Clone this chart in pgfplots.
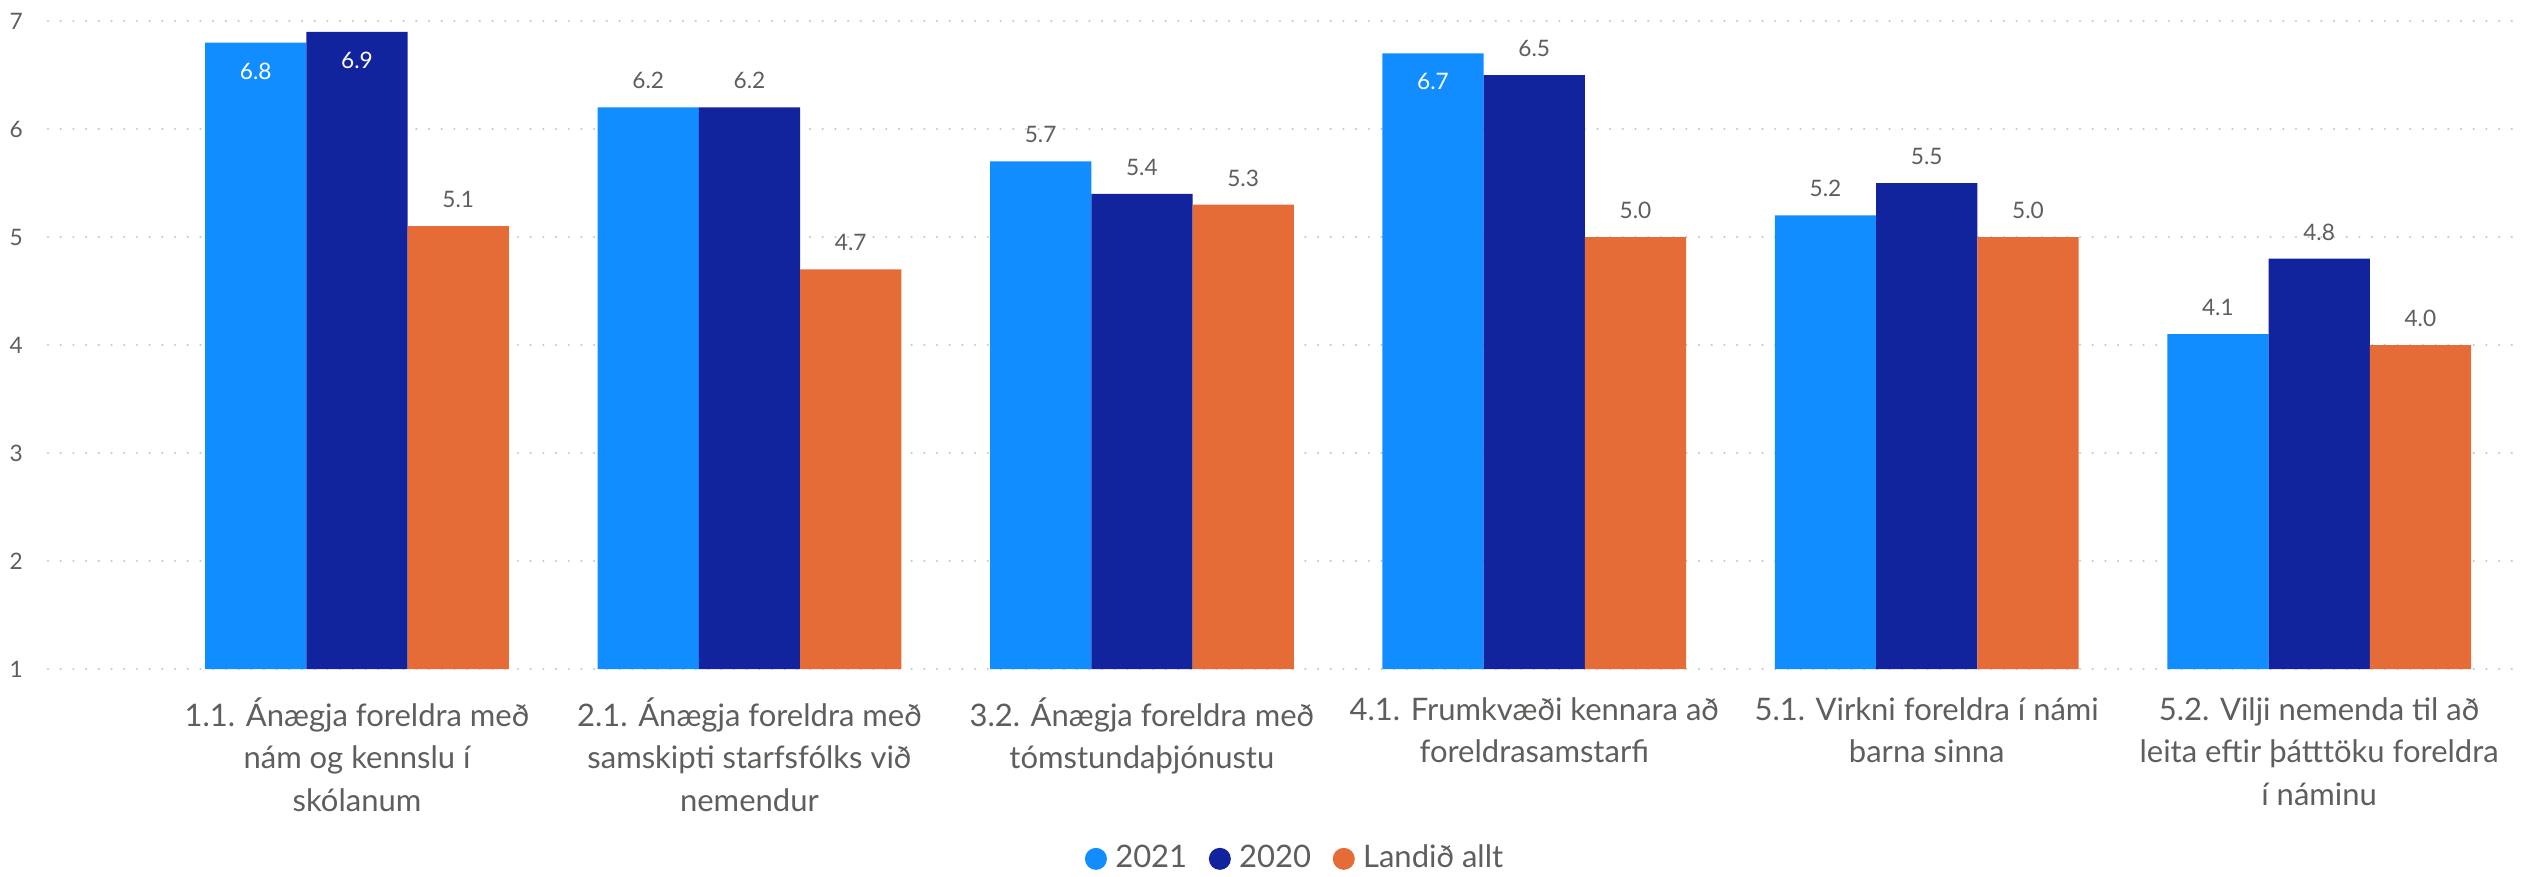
\documentclass[border=0pt]{standalone}
\usepackage{fontspec}
\setmainfont{Lato}
\usepackage{pgfplots}
\pgfplotsset{compat=1.18}
\definecolor{cA}{HTML}{118DFF}
\definecolor{cB}{HTML}{12239E}
\definecolor{cC}{HTML}{E66C37}
\definecolor{labgray}{HTML}{605E5C}
\definecolor{gridgray}{HTML}{C8C6C4}

\pgfplotsset{
  circleleg/.style={legend image code/.code={\fill[##1] (0pt,0pt) circle (3.3pt);}},
  outlab/.style={forget plot, draw=none, fill=none,
    nodes near coords={\pgfmathprintnumber[fixed,fixed zerofill,precision=1]{\pgfplotspointmeta}},
    every node near coord/.append style={anchor=south, text=labgray, yshift=4.3pt,
      inner sep=1pt, font=\fontsize{6.8}{8}\selectfont}},
  inlab/.style={forget plot, draw=none, fill=none,
    nodes near coords={\pgfmathprintnumber[fixed,fixed zerofill,precision=1]{\pgfplotspointmeta}},
    every node near coord/.append style={anchor=north, text=white, yshift=-4.8pt,
      inner sep=1pt, font=\fontsize{6.8}{8}\selectfont}},
}

\begin{document}
\begin{tikzpicture}
\path[use as bounding box] (-14.4pt,-62.1pt) rectangle (743.4pt,200.7pt);
\begin{axis}[
  at={(0pt,0pt)}, anchor=south west,
  scale only axis,
  width=742.2pt, height=194.4pt,
  xmin=-0.7875, xmax=5.517,
  ymin=1, ymax=7,
  ybar, bar width=0.258,
  ytick={1,2,...,7},
  xtick={0,...,5},
  xticklabels={
    {1.1. Ánægja foreldra með\\nám og kennslu í\\skólanum},
    {2.1. Ánægja foreldra með\\samskipti starfsfólks við\\nemendur},
    {3.2. Ánægja foreldra með\\tómstundaþjónustu},
    {4.1. Frumkvæði kennara að\\foreldrasamstarfi},
    {5.1. Virkni foreldra í námi\\barna sinna},
    {5.2. Vilji nemenda til að\\leita eftir þátttöku foreldra\\í náminu}},
  /pgf/number format/assume math mode=true,
  axis line style={draw=none},
  major tick length=0pt,
  ymajorgrids,
  major grid style={gridgray, line width=0.75pt, dash pattern=on 0.01pt off 3.8pt, line cap=round},
  xticklabel style={align=center, font=\fontsize{9.3}{12.8}\selectfont, text=labgray, yshift=-5pt},
  yticklabel style={font=\fontsize{6.8}{8}\selectfont, text=labgray, xshift=-4pt},
  legend style={at={(0.505,-0.293)}, anchor=center, draw=none, fill=none,
    legend columns=-1, font=\fontsize{9.3}{11}\selectfont, text=labgray,
    /tikz/every odd column/.append style={column sep=0.5pt},
    /tikz/every even column/.append style={column sep=4.5pt}},
]
\addplot[fill=cA, draw=none, bar shift=-0.258, circleleg] coordinates {(0,6.8) (1,6.2) (2,5.7) (3,6.7) (4,5.2) (5,4.1)};
\addlegendentry{2021}
\addplot[fill=cB, draw=none, bar shift=0, circleleg] coordinates {(0,6.9) (1,6.2) (2,5.4) (3,6.5) (4,5.5) (5,4.8)};
\addlegendentry{2020}
\addplot[fill=cC, draw=none, bar shift=0.258, circleleg] coordinates {(0,5.1) (1,4.7) (2,5.3) (3,5.0) (4,5.0) (5,4.0)};
\addlegendentry{Landið allt}
% value labels
\addplot[inlab, bar shift=-0.258] coordinates {(0,6.8) (3,6.7)};
\addplot[outlab, bar shift=-0.258] coordinates {(1,6.2) (2,5.7) (4,5.2) (5,4.1)};
\addplot[inlab, bar shift=0] coordinates {(0,6.9)};
\addplot[outlab, bar shift=0] coordinates {(1,6.2) (2,5.4) (3,6.5) (4,5.5) (5,4.8)};
\addplot[outlab, bar shift=0.258] coordinates {(0,5.1) (1,4.7) (2,5.3) (3,5.0) (4,5.0) (5,4.0)};
\end{axis}
\end{tikzpicture}
\end{document}
